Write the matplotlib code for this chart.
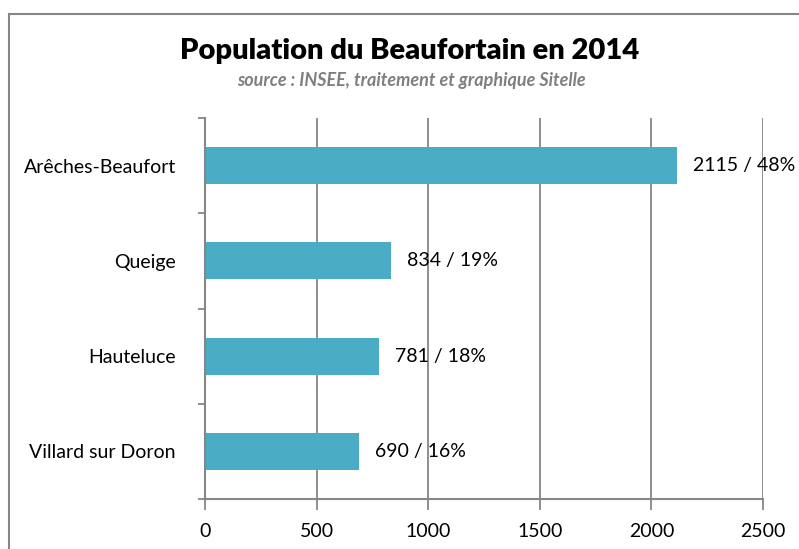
import matplotlib as mpl
mpl.use('Agg')

import matplotlib.pyplot as plt
import numpy as np
from matplotlib.patches import Rectangle

# données
communes = ['Arêches-Beaufort', 'Queige', 'Hauteluce', 'Villard sur Doron']
population = [2115, 834, 781, 690]
pourcentages = [48, 19, 18, 16]
xticks = [0, 500, 1000, 1500, 2000, 2500]

plt.rcParams['font.family'] = ['Lato', 'DejaVu Sans']

fig = plt.figure(figsize=(7.99, 5.49), dpi=100)
ax = fig.add_axes([205 / 799, 1 - 499 / 549, 558 / 799, 381 / 549])

gris = '#868686'
index = np.arange(len(communes))[::-1]
ax.barh(index, population, height=0.39, color='#4BACC6', zorder=3)

# étiquettes de données
for y, v, p in zip(index, population, pourcentages):
    ax.text(v + 70, y, '%d / %d%%' % (v, p), va='center', ha='left', fontsize=14, zorder=4)

ax.set_xlim(0, 2500)
ax.set_ylim(-0.5, len(communes) - 0.5)
ax.set_xticks(xticks)
ax.set_xticklabels([str(t) for t in xticks], fontsize=14)
ax.set_yticks(index)
ax.set_yticklabels(communes, fontsize=14)
ax.set_yticks(np.arange(-0.5, len(communes)), minor=True)

ax.tick_params(axis='y', which='major', length=0, pad=21)
ax.tick_params(axis='y', which='minor', length=5, color=gris, width=1.3, direction='out')
ax.tick_params(axis='x', length=8, color=gris, width=1.3, direction='out', pad=9)

ax.grid(axis='x', color=gris, lw=1.3, zorder=0)
for s in ['top', 'right']:
    ax.spines[s].set_visible(False)
for s in ['left', 'bottom']:
    ax.spines[s].set_color(gris)
    ax.spines[s].set_linewidth(1.5)
    ax.spines[s].set_zorder(5)

fig.text(410 / 799, 1 - 51 / 549, 'Population du Beaufortain en 2014', ha='center', va='center',
         fontsize=21, fontweight='heavy')
fig.text(411 / 799, 1 - 81 / 549, 'source : INSEE, traitement et graphique Sitelle', ha='center',
         va='center', fontsize=13, fontweight='bold', style='italic', color='#7F7F7F')

# cadre
fig.patches.append(Rectangle((9 / 799, -0.1), 1.2, 1.1 - 14 / 549, transform=fig.transFigure,
                             fill=False, edgecolor=gris, lw=1.5))

plt.savefig('out.png', dpi=100)
